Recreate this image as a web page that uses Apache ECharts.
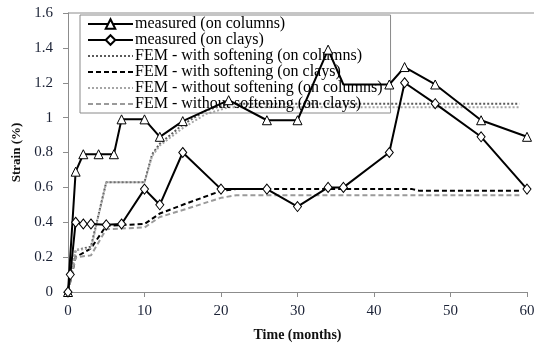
<!DOCTYPE html>
<html><head><meta charset="utf-8">
<script src="https://cdn.jsdelivr.net/npm/echarts@6/dist/echarts.min.js"></script>
<style>html,body{margin:0;padding:0;background:#fff}#c{width:534px;height:343px}</style>
</head><body><div id="c"></div>
<script>
// Data (time in months, strain in %)
const measuredColumns = [[0,0],[1,0.69],[2,0.79],[4,0.79],[6,0.79],[7,0.99],[10,0.99],[12,0.89],[15,0.98],[21,1.10],[26,0.985],[30,0.985],[34,1.39],[36,1.19],[42,1.19],[44,1.29],[48,1.19],[54,0.985],[60,0.89]];
const measuredClays = [[0,0],[0.3,0.1],[1,0.4],[2,0.39],[3,0.39],[5,0.385],[7,0.39],[10,0.59],[12,0.5],[15,0.8],[20,0.59],[26,0.59],[30,0.49],[34,0.6],[36,0.6],[42,0.8],[44,1.2],[48,1.08],[54,0.89],[60,0.59]];
const femSoftColumns = [[0,0],[1,0.24],[3,0.26],[5,0.63],[10,0.63],[11,0.79],[12,0.85],[15,0.96],[18,1.04],[21,1.08],[30,1.08],[40,1.08],[59,1.08]];
const femSoftClays = [[0,0],[1,0.2],[3,0.25],[5,0.38],[10,0.39],[12,0.45],[15,0.5],[20,0.58],[22,0.59],[45,0.59],[46,0.58],[59,0.58]];
const femNoSoftColumns = [[0,0],[1,0.24],[3,0.25],[5,0.63],[10,0.63],[11,0.78],[12,0.84],[15,0.94],[18,1.02],[21,1.06],[30,1.06],[59,1.06]];
const femNoSoftClays = [[0,0],[1,0.2],[3,0.21],[5,0.36],[10,0.37],[12,0.43],[15,0.47],[20,0.54],[22,0.555],[59,0.555]];
const seriesNames = ['measured (on columns)','measured (on clays)','FEM - with softening (on columns)','FEM - with softening (on clays)','FEM - without softening (on columns)','FEM - without softening (on clays)'];
const xTicks = {min:0,max:60,interval:10};
const yTicks = {min:0,max:1.6,interval:0.2};

const serif = '"Liberation Serif","Times New Roman",serif';
const hiddenColMarkers = [13]; // vertex at 36 months shows no marker
const chart = echarts.init(document.getElementById('c'), null, {renderer:'canvas'});
function fem(name, data, color, type){
  return {name, type:'line', data, symbol:'none', z:2,
    lineStyle:{color, width:2, type}, itemStyle:{color}};
}
chart.setOption({
  animation:false,
  backgroundColor:'#fff',
  grid:{left:68,right:7,top:13,bottom:51,containLabel:false,outerBoundsMode:'none'},
  legend:{
    orient:'vertical', left:80, top:15,
    data:seriesNames.map((n,i)=> i<2 ? n : {name:n, itemStyle:{opacity:0}}),
    itemWidth:45, itemHeight:12, itemGap:0,
    borderColor:'#8a8a8a', borderWidth:1, padding:[1,8,1,7],
    textStyle:{fontFamily:serif, fontSize:16, color:'#000', height:16, lineHeight:16, padding:[0,0,0,-3]},
    inactiveColor:'#000'
  },
  xAxis:{type:'value', min:xTicks.min, max:xTicks.max, interval:xTicks.interval,
    name:'Time (months)', nameLocation:'middle', nameGap:36,
    nameTextStyle:{fontFamily:serif, fontWeight:'bold', fontSize:14, color:'#111'},
    axisLine:{lineStyle:{color:'#8c8c8c',width:1}},
    axisTick:{show:true, length:5, lineStyle:{color:'#8c8c8c'}},
    axisLabel:{fontFamily:serif, fontSize:15, color:'#1b2236', margin:12},
    splitLine:{show:false}},
  yAxis:{type:'value', min:yTicks.min, max:yTicks.max, interval:yTicks.interval,
    name:'Strain (%)', nameLocation:'middle', nameGap:37, nameRotate:90,
    nameTextStyle:{fontFamily:serif, fontWeight:'bold', fontSize:13, color:'#111'},
    axisLine:{show:true, lineStyle:{color:'#8c8c8c',width:1}},
    axisTick:{show:true, length:5, lineStyle:{color:'#8c8c8c'}},
    axisLabel:{fontFamily:serif, fontSize:15, color:'#1b2236', margin:15},
    splitLine:{show:false}},
  graphic:[{type:'line', shape:{x1:68,y1:13,x2:534,y2:13}, style:{stroke:'#8c8c8c',lineWidth:1}, silent:true}],
  series:[
    {name:seriesNames[0], type:'line', z:5,
      data: measuredColumns.map((p,i)=> hiddenColMarkers.includes(i) ? {value:p, symbol:'none'} : p),
      symbol:'triangle', symbolSize:9, showAllSymbol:true,
      lineStyle:{color:'#000',width:2}, itemStyle:{color:'#fff',borderColor:'#000',borderWidth:1}},
    {name:seriesNames[1], type:'line', z:5, data:measuredClays,
      symbol:'diamond', symbolSize:[8,10], showAllSymbol:true,
      lineStyle:{color:'#000',width:2}, itemStyle:{color:'#fff',borderColor:'#000',borderWidth:1}},
    fem(seriesNames[2], femSoftColumns, '#5a5a5a', [2,2]),
    fem(seriesNames[3], femSoftClays, '#000', [5,3]),
    fem(seriesNames[4], femNoSoftColumns, '#a6a6a6', [2,2]),
    fem(seriesNames[5], femNoSoftClays, '#9a9a9a', [5,3])
  ]
});
</script></body></html>
